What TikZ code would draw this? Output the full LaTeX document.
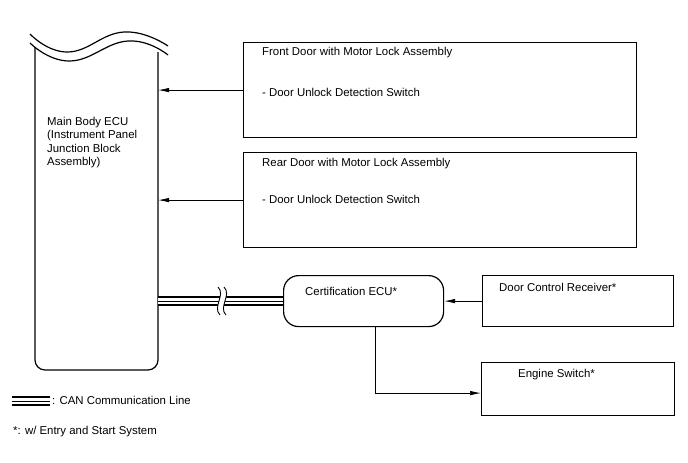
\documentclass[tikz,border=0pt]{standalone}
\usepackage{fontspec}
\setmainfont{Liberation Sans}
\usetikzlibrary{arrows.meta}

\begin{document}
\begin{tikzpicture}[x=1pt, y=-1pt,
  box/.style={draw, line width=1.2pt, minimum width=#1, inner sep=0pt, anchor=north west},
  txt/.style={anchor=west, inner sep=0pt, font=\fontsize{11.4}{13.5}\selectfont},
  sig/.style={line width=0.7pt, -{Latex[length=11pt, width=4.5pt]}},
  canline/.style={line width=10pt},
  canmid/.style={line width=6pt, white}]
  \useasboundingbox (0,0) rectangle (688,463);
  % main body ecu
  \node[minimum width=123pt, minimum height=323pt, inner sep=0pt] (mainecu) at (96.5,208.5) {};
  \draw[line width=1.2pt, rounded corners=10pt] (35,47) -- (35,370) -- (158,370) -- (158,52);
  \draw[line width=1.2pt] plot[smooth, tension=0.8] coordinates {(30,34) (68,52) (124,32) (168,46)};
  \draw[line width=1.2pt] plot[smooth, tension=0.8] coordinates {(30,43) (70,61) (128,41) (168,55)};
  \node[txt, align=left, anchor=north west] (mainlbl) at (47,117) {Main Body ECU\\(Instrument Panel\\Junction Block\\Assembly)};
  % door boxes
  \node[box=393pt, minimum height=95pt] (front) at (243,42) {};
  \node[txt] (frontlbl) at (262,53) {Front Door with Motor Lock Assembly};
  \node[txt] (frontsw) at (262,92) {- Door Unlock Detection Switch};
  \node[box=393pt, minimum height=95pt] (rear) at (243,152) {};
  \node[txt] (rearlbl) at (262,164) {Rear Door with Motor Lock Assembly};
  \node[txt] (rearsw) at (262,199) {- Door Unlock Detection Switch};
  % certification ecu
  \node[box=160pt, minimum height=51pt, rounded corners=15pt] (cert) at (283,275) {};
  \node[txt] (certlbl) at (305,291) {Certification ECU*};
  \node[box=191pt, minimum height=51pt] (receiver) at (482,275) {};
  \node[txt] (receiverlbl) at (499,287) {Door Control Receiver*};
  \node[box=193pt, minimum height=53pt] (engine) at (481,362) {};
  \node[txt] (enginelbl) at (518,375) {Engine Switch*};
  % signals
  \draw[sig] (front.west) -- (front.west -| mainecu.east);
  \draw[sig] (rear.west) -- (rear.west -| mainecu.east);
  \draw[sig] (receiver.west) -- (receiver.west -| cert.east);
  \draw[sig] ([xshift=12pt]cert.south) |- ([yshift=-4pt]engine.west);
  % can line with break
  \draw[canline] (mainecu.east |- cert.west) -- (cert.west);
  \draw[canmid] (mainecu.east |- cert.west) -- (cert.west);
  \draw[line width=1pt] (mainecu.east |- cert.west) -- (cert.west);
  \fill[white] (218,287) .. controls (226,295) and (212,307) .. (220,315)
    -- (226,315) .. controls (218,307) and (232,295) .. (224,287) -- cycle;
  \draw[line width=0.9pt] (218,287) .. controls (226,295) and (212,307) .. (220,315);
  \draw[line width=0.9pt] (224,287) .. controls (232,295) and (218,307) .. (226,315);
  % legend
  \coordinate (lgA) at (12,401);
  \coordinate (lgB) at (50,401);
  \draw[canline] (lgA) -- (lgB);
  \draw[canmid] (lgA) -- (lgB);
  \draw[line width=1pt] (lgA) -- (lgB);
  \node[txt] (canlbl) at (52,400) {: CAN Communication Line};
  \node[txt] (starlbl) at (13,432) {*: w/ Entry and Start System};
\end{tikzpicture}
\end{document}
